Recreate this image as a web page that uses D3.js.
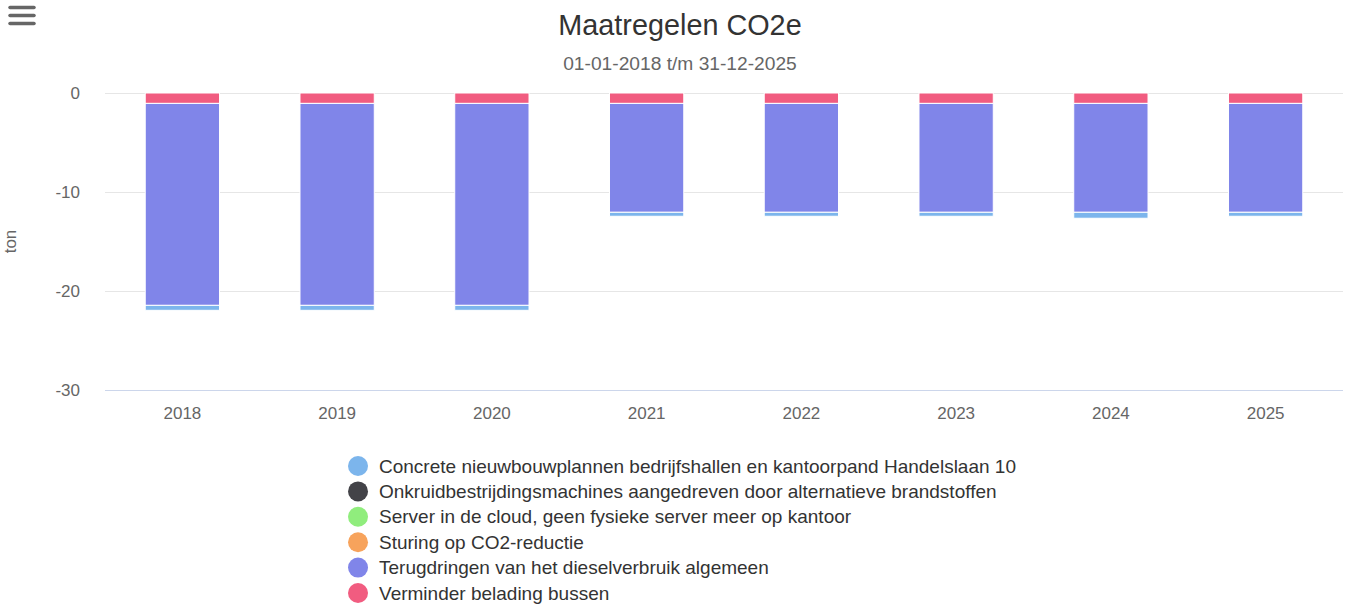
<!DOCTYPE html>
<html>
<head>
<meta charset="utf-8">
<script src="https://cdn.jsdelivr.net/npm/d3@7/dist/d3.min.js"></script>
<style>
  html, body { margin: 0; padding: 0; background: #fff; }
  svg { display: block; font-family: "Liberation Sans", Arial, sans-serif; }
</style>
</head>
<body>
<svg id="chart" width="1348" height="605"></svg>
<script>
const categories = ["2018", "2019", "2020", "2021", "2022", "2023", "2024", "2025"];
const seriesNames = [
  "Concrete nieuwbouwplannen bedrijfshallen en kantoorpand Handelslaan 10",
  "Onkruidbestrijdingsmachines aangedreven door alternatieve brandstoffen",
  "Server in de cloud, geen fysieke server meer op kantoor",
  "Sturing op CO2-reductie",
  "Terugdringen van het dieselverbruik algemeen",
  "Verminder belading bussen"
];
const seriesColors = ["#7cb5ec", "#434348", "#90ed7d", "#f7a35c", "#8085e9", "#f15c80"];
const concrete = [-0.5, -0.5, -0.5, -0.4, -0.4, -0.4, -0.6, -0.4];
const onkruid = [0, 0, 0, 0, 0, 0, 0, 0];
const server = [0, 0, 0, 0, 0, 0, 0, 0];
const sturing = [0, 0, 0, 0, 0, 0, 0, 0];
const terugdringen = [-20.4, -20.4, -20.4, -11.0, -11.0, -11.0, -11.0, -11.0];
const verminder = [-1.05, -1.05, -1.05, -1.05, -1.05, -1.05, -1.05, -1.05];
const yTicks = [0, -10, -20, -30];
const title = "Maatregelen CO2e";
const subtitle = "01-01-2018 t/m 31-12-2025";
const yTitle = "ton";

const seriesValues = [concrete, onkruid, server, sturing, terugdringen, verminder];
const FONT = '"Liberation Sans", Arial, sans-serif';

const svg = d3.select("#chart");
const plot = { left: 105, right: 1343, top: 93, bottom: 390 };

const x = d3.scaleBand().domain(categories).range([plot.left, plot.right])
  .paddingInner(0.52).paddingOuter(0.26);
const y = d3.scaleLinear().domain([-30, 0]).range([plot.bottom, plot.top]);

// hamburger icon
const menu = svg.append("g");
[7.5, 15.5, 23.5].forEach(yy => {
  menu.append("line").attr("x1", 10).attr("x2", 34).attr("y1", yy).attr("y2", yy)
    .attr("stroke", "#666").attr("stroke-width", 3.5).attr("stroke-linecap", "round");
});

// title
svg.append("text").attr("x", 680).attr("y", 35).attr("text-anchor", "middle")
  .attr("font-size", 28.8).attr("fill", "#333").text(title);
svg.append("text").attr("x", 680).attr("y", 70).attr("text-anchor", "middle")
  .attr("font-size", 19.2).attr("fill", "#666").text(subtitle);

// gridlines + y labels
const yAxis = d3.axisLeft(y).tickValues(yTicks).tickSize(-(plot.right - plot.left)).tickPadding(25)
  .tickFormat(d => String(d));
const gy = svg.append("g").attr("transform", `translate(${plot.left},0)`).call(yAxis);
gy.select(".domain").remove();
gy.selectAll(".tick line").attr("stroke", d => d === -30 ? "#ccd6eb" : "#e6e6e6").attr("stroke-width", 1);
gy.selectAll(".tick text").attr("fill", "#666").attr("font-size", 17).attr("font-family", FONT);

// x axis labels
const xAxis = d3.axisBottom(x).tickSize(0).tickPadding(17);
const gx = svg.append("g").attr("transform", `translate(0,${plot.bottom})`).call(xAxis);
gx.select(".domain").remove();
gx.selectAll(".tick text").attr("fill", "#666").attr("font-size", 17).attr("font-family", FONT);

// y title
svg.append("text").attr("transform", `translate(16,${(plot.top + plot.bottom) / 2}) rotate(-90)`)
  .attr("text-anchor", "middle").attr("font-size", 17).attr("fill", "#666").text(yTitle);

// stacked bars (last series closest to zero)
const barsG = svg.append("g");
categories.forEach((c, i) => {
  let acc = 0;
  for (let s = seriesValues.length - 1; s >= 0; s--) {
    const v = seriesValues[s][i];
    if (!v) continue;
    const y0 = acc, y1 = acc + v;
    acc = y1;
    barsG.append("rect")
      .attr("x", x(c))
      .attr("width", x.bandwidth())
      .attr("y", y(y0))
      .attr("height", y(y1) - y(y0))
      .attr("fill", seriesColors[s])
      .attr("stroke", "#fff").attr("stroke-width", 1);
  }
});

// legend
const legend = svg.append("g");
const rowH = 25.4;
const items = legend.selectAll("g").data(seriesNames).enter().append("g")
  .attr("transform", (d, i) => `translate(0,${466 + i * rowH})`);
items.append("circle").attr("cx", 0).attr("cy", 0).attr("r", 10).attr("fill", (d, i) => seriesColors[i]);
items.append("text").attr("x", 21).attr("y", 6.5).attr("font-size", 19).attr("fill", "#333").text(d => d);
let maxW = 0;
items.selectAll("text").each(function () { maxW = Math.max(maxW, this.getComputedTextLength()); });
const totalW = 10 + 21 + maxW;
legend.attr("transform", `translate(${682 - totalW / 2 + 10},0)`);
</script>
</body>
</html>
